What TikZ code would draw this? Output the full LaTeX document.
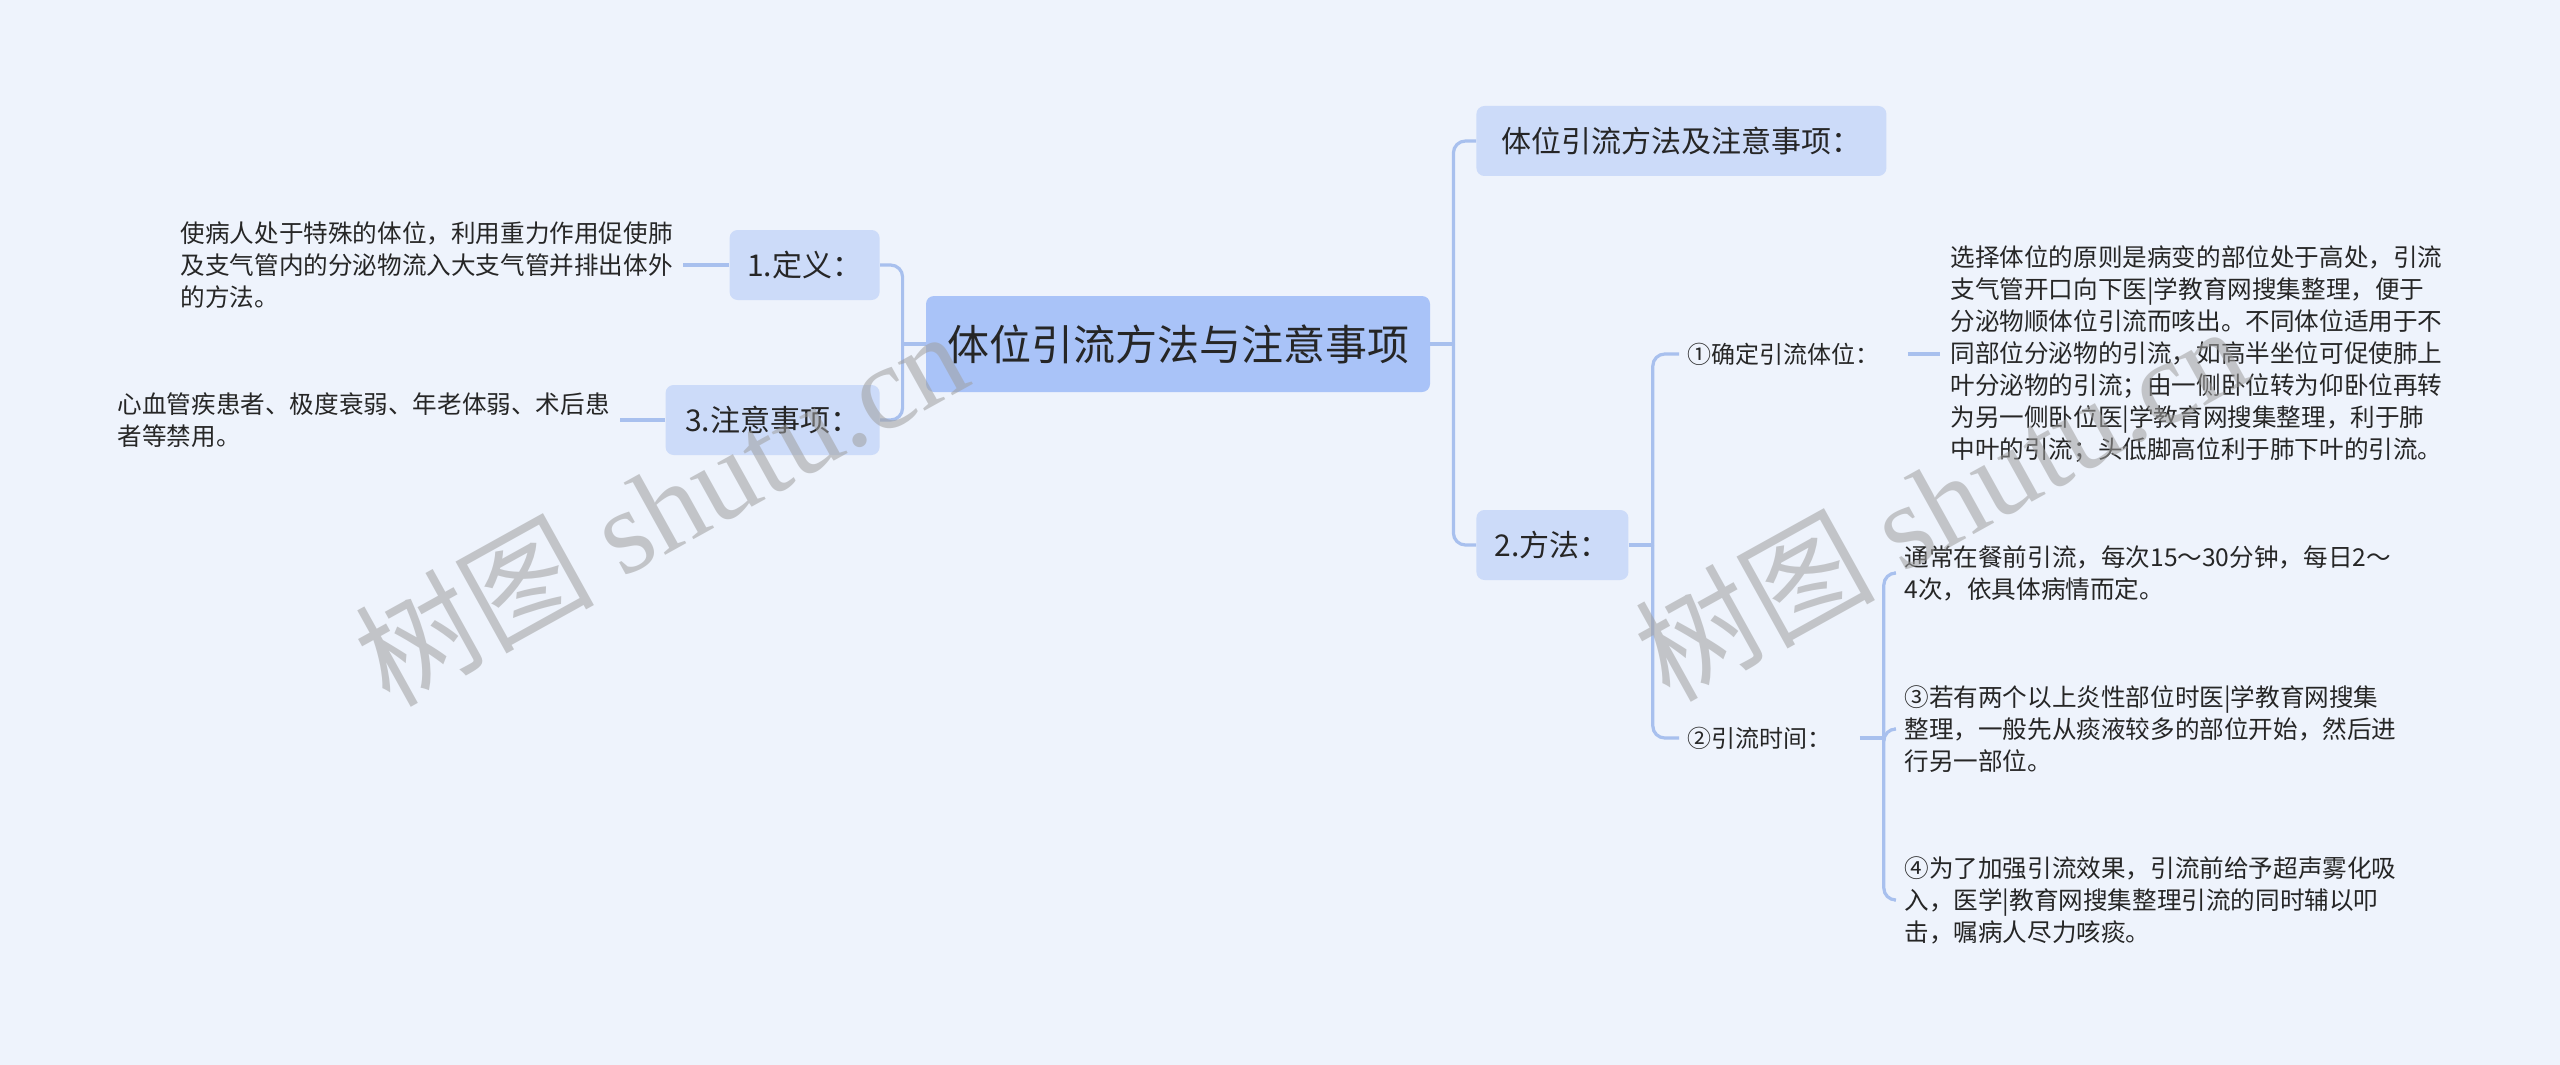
\documentclass[tikz,border=0pt]{standalone}
\usepackage{fontspec}
\setmainfont{Noto Sans CJK SC}
\newfontfamily\markfont{Liberation Serif}
\usetikzlibrary{positioning}
\definecolor{bgcol}{HTML}{EEF3FC}
\definecolor{rootcol}{HTML}{A9C3F8}
\definecolor{maincol}{HTML}{CCDBF9}
\definecolor{linecol}{HTML}{A8C0EE}
\definecolor{textcol}{HTML}{262626}

\begin{document}
\begin{tikzpicture}[x=0.5pt,y=-0.5pt,
rootnode/.style={fill=rootcol, rounded corners=4pt, minimum height=48pt, minimum width=252pt, font=\fontsize{21}{26}\selectfont, text=textcol},
mainnode/.style={fill=maincol, rounded corners=4pt, minimum height=35pt, inner xsep=8pt, font=\fontsize{15}{18}\selectfont, text=textcol},
labelnode/.style={inner xsep=4pt, font=\fontsize{12}{16}\selectfont, text=textcol},
leafnode/.style={inner xsep=5pt, align=left, font=\fontsize{12.3}{16}\selectfont, text=textcol},
link/.style={draw=linecol, line width=1.6pt, rounded corners=6pt},
wmark/.style={text=gray!75, opacity=0.55, rotate=29, font=\fontsize{60}{68}\selectfont},
]
\useasboundingbox (0,0) rectangle (2560,1065);
\fill[bgcol] (0,0) rectangle (2560,1065);

% main branches
\node[rootnode] (root) at (1178,344) {体位引流方法与注意事项};
\node[mainnode, minimum width=205pt, anchor=west] (note) at (1476,141) {体位引流方法及注意事项：};
\node[mainnode, minimum width=76pt, anchor=west] (method) at (1476,545) {2.方法：};
\node[mainnode, minimum width=75pt, anchor=east] (define) at (880,265) {1.定义：};
\node[mainnode, minimum width=107pt, anchor=east] (caution) at (880,420) {3.注意事项：};

% left leaves
\node[leafnode, anchor=east] (definetext) at (683,265) {使病人处于特殊的体位，利用重力作用促使肺\\及支气管内的分泌物流入大支气管并排出体外\\的方法。};
\node[leafnode, anchor=east] (cautiontext) at (620,420) {心血管疾患者、极度衰弱、年老体弱、术后患\\者等禁用。};

% right side under 2.方法
\node[labelnode, anchor=west] (pos) at (1679,354) {①确定引流体位：};
\node[labelnode, anchor=west] (time) at (1679,738) {②引流时间：};
\node[leafnode, anchor=west] (postext) at (1940,354) {选择体位的原则是病变的部位处于高处，引流\\支气管开口向下医|学教育网搜集整理，便于\\分泌物顺体位引流而咳出。不同体位适用于不\\同部位分泌物的引流，如高半坐位可促使肺上\\叶分泌物的引流；由一侧卧位转为仰卧位再转\\为另一侧卧位医|学教育网搜集整理，利于肺\\中叶的引流；头低脚高位利于肺下叶的引流。};
\node[leafnode, anchor=west] (timeA) at (1894,573) {通常在餐前引流，每次15～30分钟，每日2～\\4次，依具体病情而定。};
\node[leafnode, anchor=west] (timeB) at (1894,729) {③若有两个以上炎性部位时医|学教育网搜集\\整理，一般先从痰液较多的部位开始，然后进\\行另一部位。};
\node[leafnode, anchor=west] (timeC) at (1894,900) {④为了加强引流效果，引流前给予超声雾化吸\\入，医学|教育网搜集整理引流的同时辅以叩\\击，嘱病人尽力咳痰。};

\path (root.east) ++(23,0) coordinate (rhub);
\path (root.west) ++(-23,0) coordinate (lhub);
\path (method.east) ++(24,0) coordinate (mhub);
\path (time.east) ++(44,0) coordinate (thub);

\draw[link] (root.east) -- (rhub);
\draw[link] (rhub) |- (note.west);
\draw[link] (rhub) |- (method.west);
\draw[link] (root.west) -- (lhub);
\draw[link] (lhub) |- (define.east);
\draw[link] (lhub) |- (caution.east);
\draw[link] (define.west) -- (definetext.east);
\draw[link] (caution.west) -- (cautiontext.east);
\draw[link] (method.east) -- (mhub);
\draw[link] (mhub) |- (pos.west);
\draw[link] (mhub) |- (time.west);
\draw[link, shorten <=10pt] (pos.east) -- (postext.west);
\draw[link, shorten <=10pt] (time.east) -- (thub);
\draw[link] (thub) |- (timeA.west);
\draw[link] (thub) |- (timeB.west);
\draw[link] (thub) |- (timeC.west);

% watermarks
\node[wmark] (mark1) at (660,506) {树图 {\markfont shutu.cn}};
\node[wmark] (mark2) at (1940,501) {树图 {\markfont shutu.cn}};
\end{tikzpicture}
\end{document}
